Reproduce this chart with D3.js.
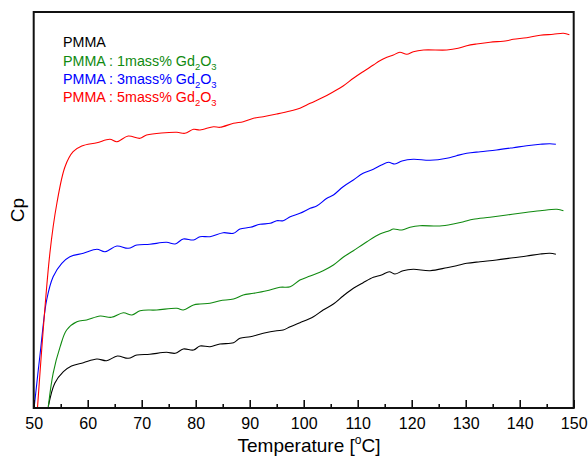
<!DOCTYPE html>
<html>
<head>
<meta charset="utf-8">
<script src="https://cdn.jsdelivr.net/npm/d3@7"></script>
<style>
  body { margin: 0; background: #fff; }
  svg { display: block; font-family: Arial, "Liberation Sans", sans-serif; }
</style>
</head>
<body>
<svg id="chart" width="588" height="457"></svg>
<script>
// ---- Data (Cp in arbitrary units) ----
const xTicks = [50, 60, 70, 80, 90, 100, 110, 120, 130, 140, 150];
const xMinorTicks = [55, 65, 75, 85, 95, 105, 115, 125, 135, 145];

const seriesNames = ["PMMA", "PMMA : 1mass% Gd", "PMMA : 3mass% Gd", "PMMA : 5mass% Gd"];
const seriesColors = ["#000000", "#108a10", "#0000ff", "#ff0000"];

const tempPMMA = [52.7,53.9,55.5,57.0,59.2,61.7,63.5,65.5,67.5,69.1,71.5,74.6,76.2,77.7,79.6,80.8,82.65,84.5,87.0,88.2,90.1,92.5,95.0,96.2,97.5,99.3,101.8,103.6,105.5,107.3,109.2,111.0,112.9,114.4,115.85,116.9,118.4,120.3,123.4,126.5,128.3,130.2,132.65,135.7,138.8,141.3,143.8,145.6,146.7];
const cpPMMA   = [1.3,24.7,36.3,42,45.3,49,47.3,52,49.7,53,53.7,55.7,54.7,59,58,62,61.3,64,65.3,69.7,71.3,74.7,77.3,78,81.3,85.3,91.3,98,104,112,119.7,125.3,130.7,133,136.3,134,137.3,138.7,137.3,140.3,142.3,144.7,146.3,148,150.3,152,154,154.7,153.7];

const temp1 = [52.7,53.6,54.9,56.1,58.0,59.8,62.3,64.4,66.6,68.2,69.7,72.8,76.5,77.7,79.6,80.8,82.65,84.5,87.0,88.8,90.7,93.15,95.6,97.5,99.3,101.2,103.6,105.5,107.3,109.2,111.7,114.1,115.85,116.6,118.2,119.7,121.5,125.2,127.7,129.6,131.4,134.5,137.6,140.7,143.8,146.9,148.1];
const cp1   = [1.3,34.7,61.3,78,86.3,88,92,90.7,95.3,93,97.3,98,99.7,98,103,104,104.7,107.3,109,113,114.7,117.3,120.7,121.3,128,132,137.3,143,150.7,157.3,166.3,174,177.3,179,178,180.7,182.3,182,184,186.3,188.7,190.7,193,195.3,197.3,198.7,197.3];

const temp3 = [50.1,51.2,52.4,53.6,55.2,56.7,59.2,61.7,63.2,65.4,67.5,69.1,71.5,74.6,76.2,77.7,79.6,80.8,82.65,85.1,87.0,88.2,90.1,91.9,93.8,95.0,96.2,97.5,99.3,101.2,102.4,104.3,105.5,107.3,109.2,111.0,112.9,114.4,115.7,116.9,118.2,120.3,123.4,126.5,128.3,130.2,132.7,135.7,138.8,141.3,143.8,145.6,146.7];
const cp3   = [1.3,54.7,108,131.3,144.7,151.3,154.7,158.7,156.3,162,159.7,163,163.7,165.7,164,169,168,171.3,171.3,175.3,174.7,179,180.7,183.7,184.7,187.3,187.3,191.3,194.7,199.7,202,209.7,213,221.3,228,234.7,238.7,243,245.7,244,247,248.7,247.7,249.7,252.3,254.7,256.3,258,260.3,262.3,263.7,264.3,263.7];

const temp5 = [50.7,53.0,54.3,55.8,57.3,58.9,61.7,64.1,65.4,67.5,69.7,70.9,76.5,78.0,79.6,80.8,83.3,84.5,87.0,88.8,90.7,92.5,95.0,97.5,99.3,101.2,103.6,105.5,107.3,109.2,111.0,112.9,114.1,115.4,116.6,117.8,119.1,120.3,122.2,126.5,128.6,130.2,132.0,134.5,137.6,138.8,141.3,143.8,146.2,148.1,149.2];
const cp5   = [0,155,205,241.3,256.3,262,265.3,268.7,266.3,272,269.7,273,275.7,274.7,278.7,278,281.3,280.7,284.7,286.3,289.7,291.3,294,297,299.7,304.7,310.7,316.3,322,329.7,336.3,343,347.3,350.7,353,355.7,353.7,356.3,358,358,359.7,362.3,364,365.7,367.3,368.7,370.3,372.7,373.7,374.7,373.3];

const seriesTemps = [tempPMMA, temp1, temp3, temp5];
const seriesCps = [cpPMMA, cp1, cp3, cp5];

// ---- Layout ----
const svg = d3.select("#chart");
const mLeft = 33.7, mRight = 573.7, mTop = 12, mBottom = 408;

const x = d3.scaleLinear().domain([50, 150]).range([mLeft, mRight]);
const y = d3.scaleLinear().domain([0, 396]).range([mBottom, mTop]);

// clip
svg.append("defs").append("clipPath").attr("id", "clip")
  .append("rect").attr("x", mLeft).attr("y", mTop).attr("width", mRight - mLeft).attr("height", mBottom - mTop);

// curves
const line = d3.line().x(d => x(d[0])).y(d => y(d[1])).curve(d3.curveCatmullRom.alpha(0.5));
const g = svg.append("g").attr("clip-path", "url(#clip)");
seriesTemps.forEach((t, i) => {
  const pts = t.map((v, j) => [v, seriesCps[i][j]]);
  g.append("path").datum(pts)
    .attr("d", line)
    .attr("fill", "none")
    .attr("stroke", seriesColors[i])
    .attr("stroke-width", 1.1);
});

// x axis major
const ax = svg.append("g").attr("transform", `translate(0,${mBottom})`)
  .call(d3.axisBottom(x).tickValues(xTicks).tickFormat(d3.format("d")).tickSizeInner(-8).tickSizeOuter(0).tickPadding(10));
ax.select(".domain").remove();
ax.selectAll("line").attr("stroke", "#000").attr("stroke-width", 1.5);
ax.selectAll("text").attr("font-size", 16).attr("fill", "#000")
  .attr("font-family", "Arial, 'Liberation Sans', sans-serif");

// x axis minor
const axm = svg.append("g").attr("transform", `translate(0,${mBottom})`)
  .call(d3.axisBottom(x).tickValues(xMinorTicks).tickFormat("").tickSizeInner(-4).tickSizeOuter(0));
axm.select(".domain").remove();
axm.selectAll("line").attr("stroke", "#000").attr("stroke-width", 1.5);

// frame
svg.append("rect").attr("x", mLeft).attr("y", mTop).attr("width", mRight - mLeft).attr("height", mBottom - mTop)
  .attr("fill", "none").attr("stroke", "#111").attr("stroke-width", 2);

// axis titles
const xt = svg.append("text").attr("x", 309).attr("y", 452).attr("text-anchor", "middle")
  .attr("font-size", 19).attr("fill", "#000");
xt.append("tspan").text("Temperature [");
xt.append("tspan").attr("font-size", 12).attr("dy", -8).text("o");
xt.append("tspan").attr("dy", 8).text("C]");

svg.append("text").attr("transform", "translate(24,210) rotate(-90)")
  .attr("text-anchor", "middle").attr("font-size", 19).attr("fill", "#000").text("Cp");

// legend
const legY = [47.3, 65.7, 84, 101.7];
seriesNames.forEach((name, i) => {
  const t = svg.append("text").attr("x", 63).attr("y", legY[i]).attr("font-size", 14.3).attr("fill", seriesColors[i]);
  t.append("tspan").text(name);
  if (i > 0) {
    t.append("tspan").attr("font-size", 9.5).attr("dy", 4).text("2");
    t.append("tspan").attr("dy", -4).text("O");
    t.append("tspan").attr("font-size", 9.5).attr("dy", 4).text("3");
  }
});
</script>
</body>
</html>
